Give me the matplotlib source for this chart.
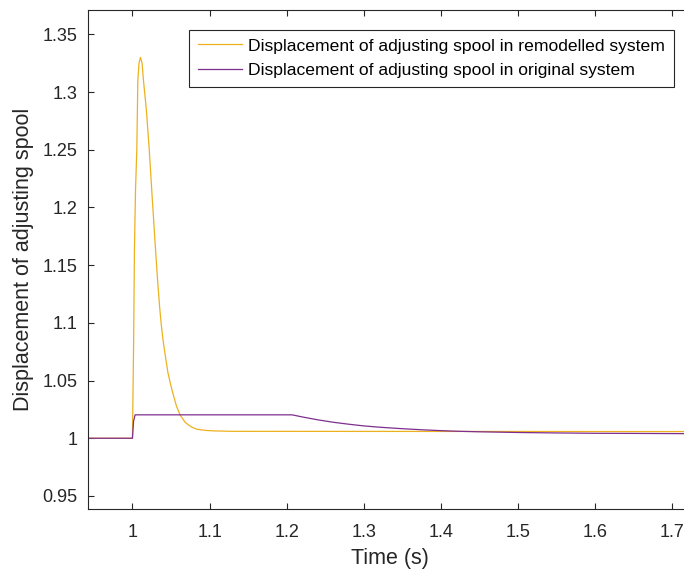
import matplotlib.pyplot as plt

plt.rcParams['font.family'] = ['Liberation Sans', 'DejaVu Sans']

# remodelled system (orange)
t_new = [0.94, 1.000, 1.0015, 1.0026, 1.0040, 1.0057, 1.0070, 1.0085, 1.0104,
         1.0125, 1.0143, 1.0180, 1.0217, 1.0255, 1.0295, 1.0325, 1.0351,
         1.0373, 1.0395, 1.0425, 1.0460, 1.0490, 1.0520, 1.0570, 1.0620,
         1.0685, 1.0760, 1.0837, 1.0950, 1.1050, 1.1300, 1.72]
x_new = [1.0, 1.0, 1.080, 1.164, 1.215, 1.251, 1.310, 1.325, 1.330,
         1.325, 1.310, 1.285, 1.251, 1.210, 1.168, 1.138, 1.115,
         1.099, 1.086, 1.072, 1.057, 1.048, 1.040, 1.028, 1.020,
         1.0137, 1.0100, 1.0078, 1.0068, 1.0064, 1.0060, 1.0058]

# original system (purple)
t_old = [0.94, 1.000, 1.0015, 1.0035, 1.207, 1.22, 1.24, 1.26, 1.28, 1.30,
         1.32, 1.34, 1.36, 1.38, 1.40, 1.42, 1.45, 1.50, 1.55, 1.60, 1.65, 1.72]
x_old = [1.0, 1.0, 1.015, 1.0203, 1.0203, 1.0185, 1.0160, 1.0139, 1.0122, 1.0107,
         1.0096, 1.0087, 1.0079, 1.0072, 1.0066, 1.0061, 1.0056, 1.0050, 1.0046,
         1.0043, 1.0042, 1.0040]

xticks = [1, 1.1, 1.2, 1.3, 1.4, 1.5, 1.6, 1.7]
yticks = [0.95, 1, 1.05, 1.1, 1.15, 1.2, 1.25, 1.3, 1.35]

fig = plt.figure(figsize=(6.84, 5.72), dpi=100)
ax = fig.add_axes([87.7/684, 1 - 509/572, (692 - 87.7)/684, (509 - 10)/572])

ax.plot(t_new, x_new, color='#EDB120', lw=0.9,
        label='Displacement of adjusting spool in remodelled system')
ax.plot(t_old, x_old, color='#7E2F8E', lw=0.9,
        label='Displacement of adjusting spool in original system')

ax.set_xlim(0.942, 1.7255)
ax.set_ylim(0.9387, 1.3711)
ax.set_xticks(xticks)
ax.set_xticklabels(['1', '1.1', '1.2', '1.3', '1.4', '1.5', '1.6', '1.7'])
ax.set_yticks(yticks)
ax.set_yticklabels(['0.95', '1', '1.05', '1.1', '1.15', '1.2', '1.25', '1.3', '1.35'])

for s in ax.spines.values():
    s.set_color('#262626')
    s.set_linewidth(0.8)
ax.tick_params(direction='in', length=4, width=0.8, colors='#262626',
               labelsize=13, top=True, right=True)
ax.tick_params(axis='x', pad=11)
ax.tick_params(axis='y', pad=7.5)

ax.set_xlabel('Time (s)', fontsize=15.5, color='#262626', labelpad=5)
ax.set_ylabel('Displacement of adjusting spool', fontsize=15.5, color='#262626', labelpad=6)

leg = ax.legend(loc='upper left', bbox_to_anchor=((189 - 87.7)/604.3, 1 - 19.5/499),
                fontsize=12.6, frameon=True, fancybox=False, framealpha=1,
                edgecolor='#262626', handlelength=2.5, borderpad=0.5,
                labelspacing=0.53, handletextpad=0.4, borderaxespad=0)
leg.get_frame().set_linewidth(0.8)

fig.savefig('out.png', dpi=100)
